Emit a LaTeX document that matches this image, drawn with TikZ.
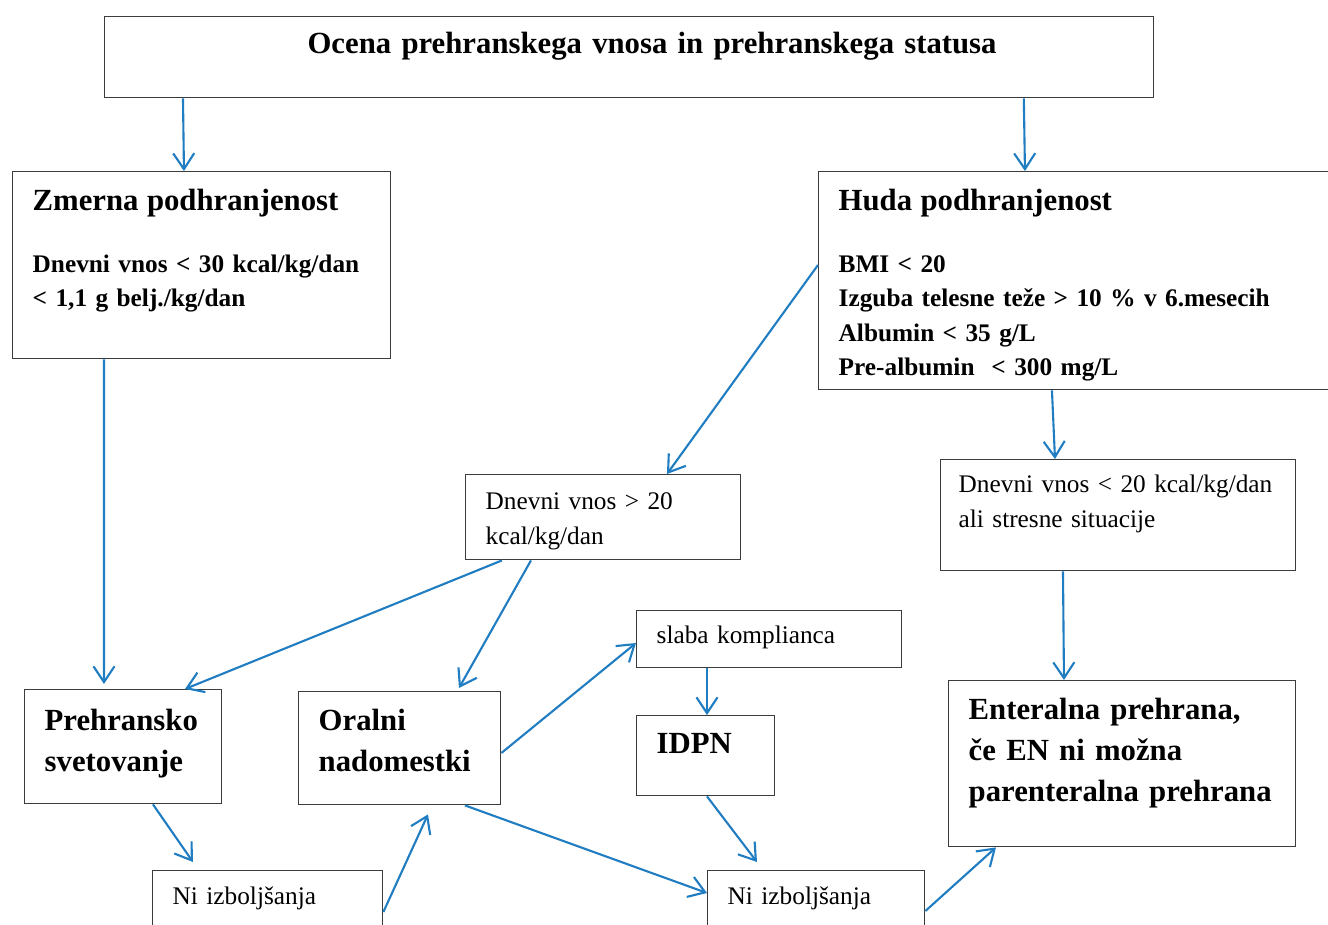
\documentclass[tikz,border=0pt]{standalone}
\usepackage{fontspec}
\setmainfont{Liberation Serif}
\usetikzlibrary{arrows.meta}
\definecolor{flowblue}{RGB}{33,125,193}
\definecolor{boxline}{RGB}{60,60,60}

\begin{document}
\begin{tikzpicture}[x=0.02cm, y=-0.02cm,
    flowbox/.style={draw=boxline, line width=0.8pt, anchor=north west, align=left, inner xsep=0.4cm, inner ysep=0pt, font=\fontsize{14.4}{19.6}\selectfont},
    headbox/.style={flowbox, font=\fontsize{17.5}{23.3}\selectfont\bfseries},
    flowarrow/.style={draw=flowblue, line width=1.2pt, -{Straight Barb[length=9pt, width=12pt]}}]
    \useasboundingbox (0,0) rectangle (1328,924);

    % Boxes
    \node[headbox, align=center, inner xsep=0pt, text width=20.98cm, text height=0.74cm, text depth=0.88cm] (ocena) at (104,16) {\hspace*{0.92cm}Ocena prehranskega vnosa in prehranskega statusa};

    \node[flowbox, font=\fontsize{14.4}{19.6}\selectfont\bfseries, text width=6.76cm, text height=0.78cm, text depth=2.96cm] (zmerna) at (12,171) {{\fontsize{17.5}{19.6}\selectfont Zmerna podhranjenost}\\[15.5pt]Dnevni vnos < 30 kcal/kg/dan\\< 1,1 g belj./kg/dan};
    \node[flowbox, font=\fontsize{14.4}{19.6}\selectfont\bfseries, text width=9.64cm, text height=0.78cm, text depth=3.58cm] (huda) at (818,171) {{\fontsize{17.5}{19.6}\selectfont Huda podhranjenost}\\[15.5pt]BMI < 20\\Izguba telesne teže > 10 \% v 6.mesecih\\Albumin < 35 g/L\\Pre-albumin \ < 300 mg/L};

    \node[flowbox, text width=4.7cm, text height=0.7cm, text depth=1.0cm] (more) at (465,474) {Dnevni vnos > 20\\kcal/kg/dan};
    \node[flowbox, inner xsep=0.36cm, text width=6.38cm, text height=0.66cm, text depth=1.56cm] (less) at (940,459) {Dnevni vnos < 20 kcal/kg/dan\\ali stresne situacije};

    \node[headbox, text width=3.14cm, text height=0.82cm, text depth=1.46cm] (prehransko) at (24,689) {Prehransko\\svetovanje};
    \node[headbox, text width=3.24cm, text height=0.78cm, text depth=1.48cm] (oralni) at (298,691) {Oralni\\nadomestki};
    \node[flowbox, text width=4.5cm, text height=0.66cm, text depth=0.48cm] (slaba) at (636,610) {slaba komplianca};
    \node[headbox, text width=1.96cm, text height=0.76cm, text depth=0.84cm] (idpn) at (636,715) {IDPN};
    \node[headbox, text width=6.14cm, text height=0.78cm, text depth=2.54cm] (enteral) at (948,680) {Enteralna prehrana,\\če EN ni možna\\parenteralna prehrana};

    \node[flowbox, text width=3.8cm, text height=0.68cm, text depth=1.2cm] (nil) at (152,870) {Ni izboljšanja};
    \node[flowbox, text width=3.54cm, text height=0.68cm, text depth=1.2cm] (nir) at (707,870) {Ni izboljšanja};

    % Arrows
    \draw[flowarrow] ([xshift=1.58cm]ocena.south west) -- ([xshift=3.44cm]zmerna.north west);
    \draw[flowarrow] ([xshift=18.4cm]ocena.south west) -- ([xshift=4.14cm]huda.north west);
    \draw[flowarrow] ([xshift=1.84cm]zmerna.south west) -- ([xshift=1.6cm, yshift=0.1cm]prehransko.north west);
    \draw[flowarrow] ([yshift=-1.88cm]huda.north west) -- ([xshift=4.04cm]more.north west);
    \draw[flowarrow] ([xshift=4.68cm]huda.south west) -- ([xshift=2.3cm]less.north west);
    \draw[flowarrow] ([xshift=0.74cm]more.south west) -- ([xshift=3.22cm]prehransko.north west);
    \draw[flowarrow] ([xshift=1.32cm]more.south west) -- ([xshift=3.22cm, yshift=0.06cm]oralni.north west);
    \draw[flowarrow] ([xshift=2.46cm]less.south west) -- ([xshift=2.32cm]enteral.north west);
    \draw[flowarrow] ([yshift=-1.24cm]oralni.north east) -- ([yshift=-0.66cm]slaba.north west);
    \draw[flowarrow] ([xshift=1.42cm]slaba.south west) -- ([xshift=1.42cm]idpn.north west);
    \draw[flowarrow] ([xshift=3.34cm]oralni.south west) -- ([yshift=-0.46cm]nir.north west);
    \draw[flowarrow] ([xshift=2.58cm]prehransko.south west) -- ([xshift=0.82cm, yshift=0.16cm]nil.north west);
    \draw[flowarrow] ([yshift=-0.84cm]nil.north east) -- ([xshift=2.6cm, yshift=-0.18cm]oralni.south west);
    \draw[flowarrow] ([xshift=1.42cm]idpn.south west) -- ([xshift=1.0cm, yshift=0.16cm]nir.north west);
    \draw[flowarrow] ([yshift=-0.82cm]nir.north east) -- ([xshift=0.96cm]enteral.south west);
\end{tikzpicture}
\end{document}
